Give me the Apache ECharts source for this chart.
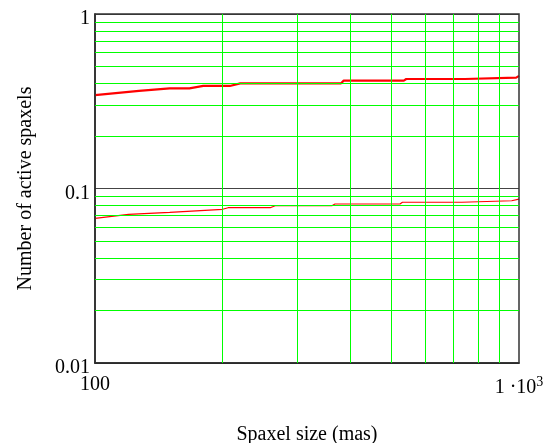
<!DOCTYPE html>
<html>
<head>
<meta charset="utf-8">
<script src="https://cdn.jsdelivr.net/npm/echarts@6/dist/echarts.min.js"></script>
<style>
html,body{margin:0;padding:0;background:#fff;}
#main{width:546px;height:443px;}
</style>
</head>
<body>
<div id="main"></div>
<script>
// upper curve (x in mas, y = fraction)
var upperX = [100, 127, 150, 167, 180, 208, 220, 380, 386, 535, 542, 745, 752, 985, 1000];
var upperY = [0.343, 0.363, 0.375, 0.375, 0.387, 0.387, 0.40, 0.40, 0.415, 0.415, 0.424, 0.424, 0.432, 0.432, 0.442];
// lower curve
var lowerX = [100, 120, 150, 200, 206, 259, 266, 362, 368, 524, 531, 733, 740, 961, 970, 1000];
var lowerY = [0.0675, 0.071, 0.073, 0.076, 0.0776, 0.0776, 0.0797, 0.0797, 0.0815, 0.0815, 0.0834, 0.0834, 0.0851, 0.0851, 0.087, 0.087];

// minor grid positions
var xGrid = [200, 300, 400, 500, 600, 700, 800, 900];
var yGrid = [0.02, 0.03, 0.04, 0.05, 0.06, 0.07, 0.08, 0.09, 0.2, 0.3, 0.4, 0.5, 0.6, 0.7, 0.8, 0.9];

// tick labels
var yTickLabels = {'-2': '0.01', '-1': '0.1', '0': '1'};
var xTickLabels = {'2': '100', '3': '{n|1 ·10}{s|3}'};

function pairs(xs, ys){
    var out = [];
    for(var i=0;i<xs.length;i++){
        out.push([xs[i], ys[i]]);
    }
    return out;
}

var gridLines = [];
for(var i=0;i<xGrid.length;i++){
    gridLines.push({xAxis: xGrid[i]});
}
for(var j=0;j<yGrid.length;j++){
    gridLines.push({yAxis: yGrid[j]});
}

var font = 'Liberation Serif';
var myChart = echarts.init(document.getElementById('main'));
var option = {
    animation: false,
    grid: {
        left: 95, top: 14, right: 27, bottom: 80,
        outerBoundsMode: 'none',
        containLabel: false,
        show: true, borderColor: '#333', borderWidth: 1.5, z: 5
    },
    xAxis: {
        type: 'log',
        logBase: 10,
        min: 100,
        max: 1000,
        name: 'Spaxel size (mas)',
        nameLocation: 'middle',
        nameGap: 62,
        nameTextStyle: {fontFamily: font, fontSize: 20, color: '#000'},
        axisLine: {show: true, lineStyle: {color: '#000', width: 1.5}},
        axisTick: {show: false},
        splitLine: {show: false},
        axisLabel: {
            margin: 12,
            fontFamily: font,
            fontSize: 20,
            color: '#000',
            formatter: function(v){
                return xTickLabels[String(Math.round(Math.log10(v)))] || '';
            },
            rich: {
                n: {fontFamily: font, fontSize: 20, color: '#000'},
                s: {fontFamily: font, fontSize: 14, color: '#000', verticalAlign: 'top', padding: [0, 0, 12, 0]}
            }
        }
    },
    yAxis: {
        type: 'log',
        logBase: 10,
        min: 0.01,
        max: 1,
        name: 'Number of active spaxels',
        nameLocation: 'middle',
        nameGap: 59,
        nameTextStyle: {fontFamily: font, fontSize: 20, color: '#000'},
        axisLine: {show: true, lineStyle: {color: '#000', width: 1.5}},
        axisTick: {show: false},
        splitLine: {show: true, lineStyle: {color: '#444', width: 1}},
        axisLabel: {
            margin: 5,
            fontFamily: font,
            fontSize: 20,
            color: '#000',
            verticalAlign: 'top',
            lineHeight: 10,
            formatter: function(v){
                return yTickLabels[String(Math.round(Math.log10(v)))] || '';
            }
        }
    },
    series: [
        {
            type: 'line',
            data: [],
            z: 1,
            silent: true,
            markLine: {
                silent: true,
                symbol: ['none', 'none'],
                label: {show: false},
                lineStyle: {color: '#00ff00', width: 1, type: 'solid', opacity: 1},
                emphasis: {disabled: true},
                data: gridLines
            }
        },
        {
            type: 'line',
            data: pairs(upperX, upperY),
            showSymbol: false,
            z: 3,
            lineStyle: {color: '#ff0000', width: 2.2}
        },
        {
            type: 'line',
            data: pairs(lowerX, lowerY),
            showSymbol: false,
            z: 3,
            lineStyle: {color: '#ff0000', width: 1.2}
        }
    ]
};
myChart.setOption(option);
window.onresize = myChart.resize;
</script>
</body>
</html>
